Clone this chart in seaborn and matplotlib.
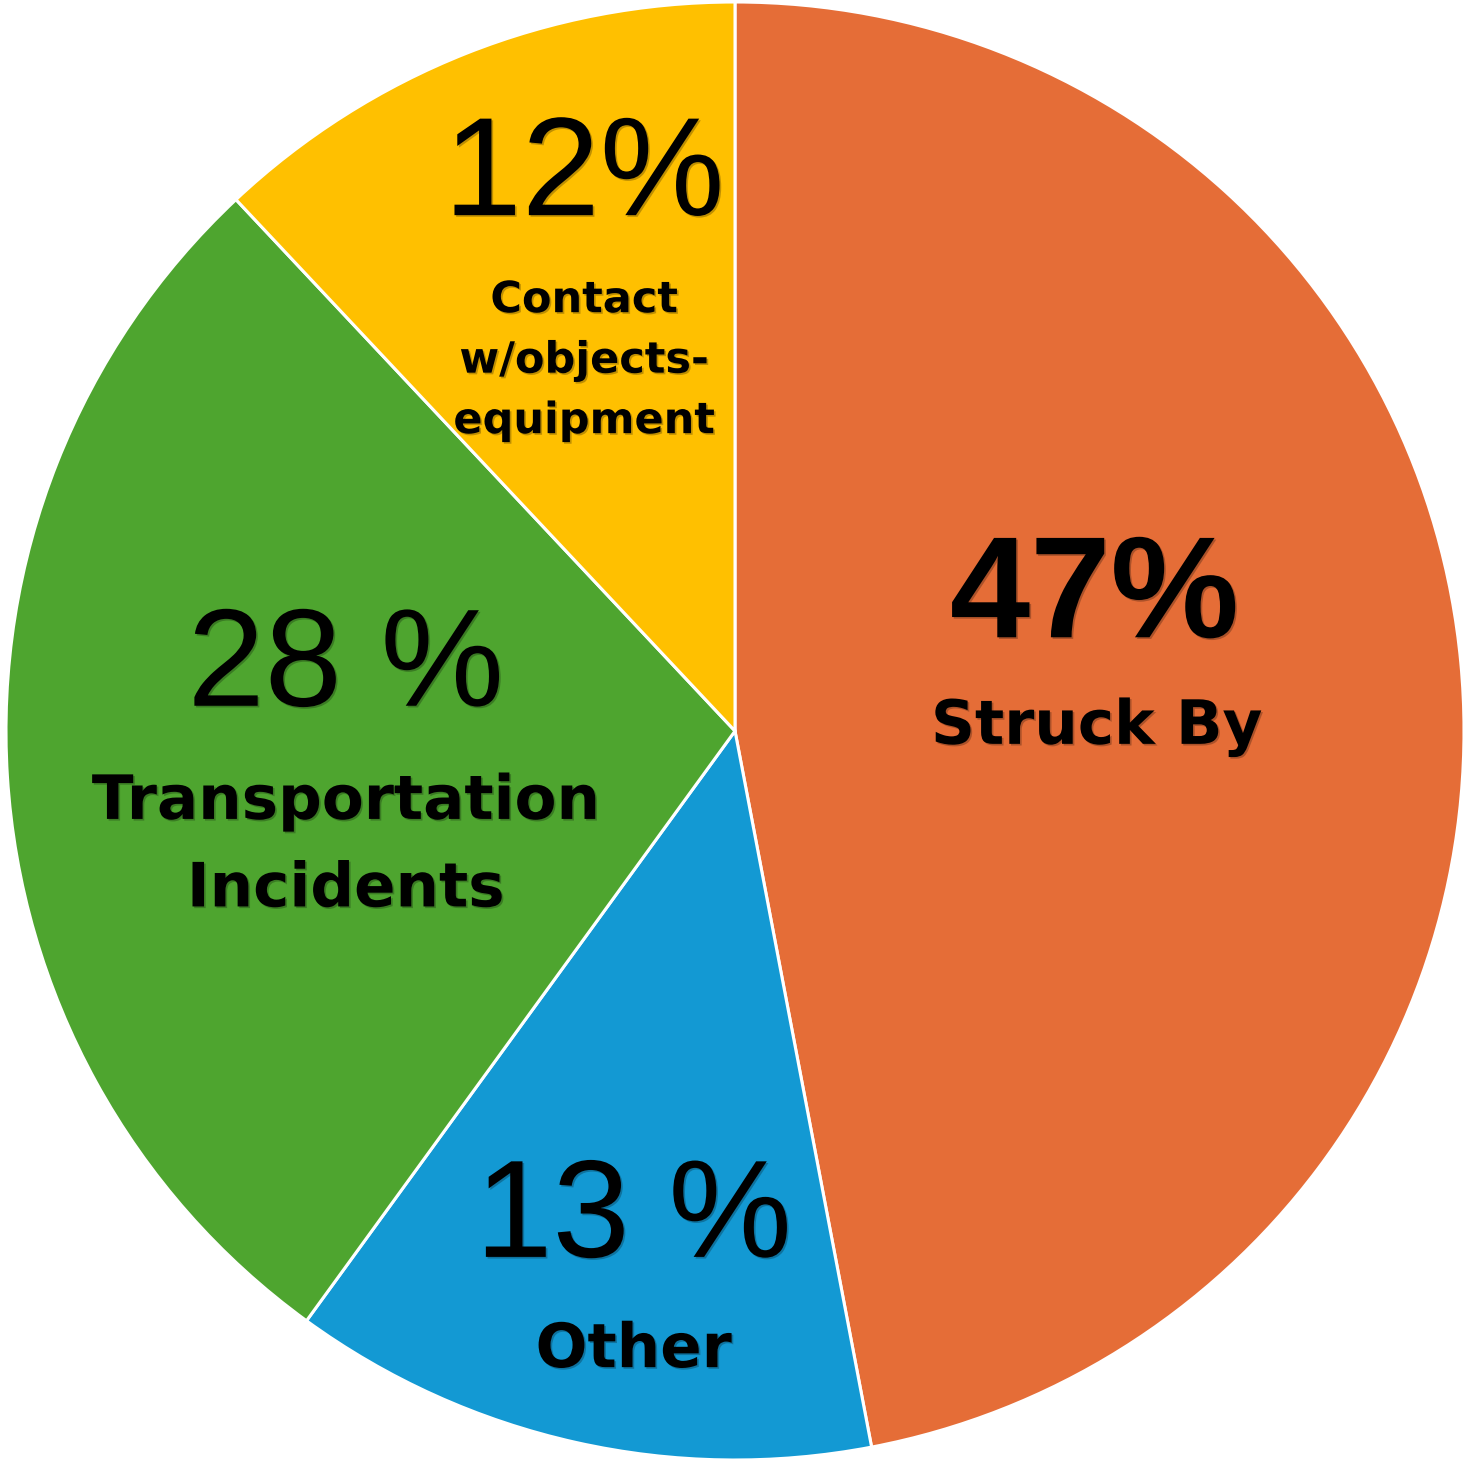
import matplotlib
matplotlib.use("Agg")
import matplotlib.pyplot as plt
import matplotlib.patheffects as pe
import seaborn as sns

# slices in drawing order (clockwise from 12 o'clock)
categories = ["Struck By", "Other", "Transportation\nIncidents", "Contact\nw/objects-\nequipment"]
shares = [47, 13, 28, 12]
pct_labels = ["47%", "13 %", "28 %", "12%"]
colors = ["#E56D37", "#1399D3", "#4EA52F", "#FFC000"]

sns.set_theme(style="white")

fig = plt.figure(figsize=(14.65, 14.60), dpi=100)
ax = fig.add_axes([6 / 1465, 0 / 1460, 1458 / 1465, 1458 / 1460])
ax.pie(shares, colors=colors, startangle=90, counterclock=False, radius=1,
       wedgeprops=dict(edgecolor="white", linewidth=2.2))
ax.set_xlim(-1.0, 1.0)
ax.set_ylim(-1.0, 1.0)
ax.set_aspect("equal")
ax.axis("off")

shadow = [pe.SimplePatchShadow(offset=(1.2, -1.2), alpha=0.25), pe.Normal()]

# label anchors (data coords) for percent and category text
pct_pos = [(0.493, 0.180), (-0.139, -0.672), (-0.534, 0.084), (-0.207, 0.757)]
cat_pos = [(0.496, 0.005), (-0.139, -0.850), (-0.534, -0.158), (-0.207, 0.508)]
cat_size = [44, 44, 44, 31]
cat_spacing = [1.0, 1.0, 1.62, 1.56]
pct_weight = ["bold", "normal", "normal", "normal"]
pct_size = [104, 100, 100, 101]

for i in range(len(shares)):
    ax.text(pct_pos[i][0], pct_pos[i][1], pct_labels[i], ha="center", va="center",
            fontsize=pct_size[i], fontweight=pct_weight[i], family="Liberation Sans",
            color="black", path_effects=shadow)
    ax.text(cat_pos[i][0], cat_pos[i][1], categories[i], ha="center", va="center",
            fontsize=cat_size[i], fontweight="bold", family="DejaVu Sans",
            linespacing=cat_spacing[i], color="black", path_effects=shadow)

fig.savefig("out.png", dpi=100, facecolor="white")
